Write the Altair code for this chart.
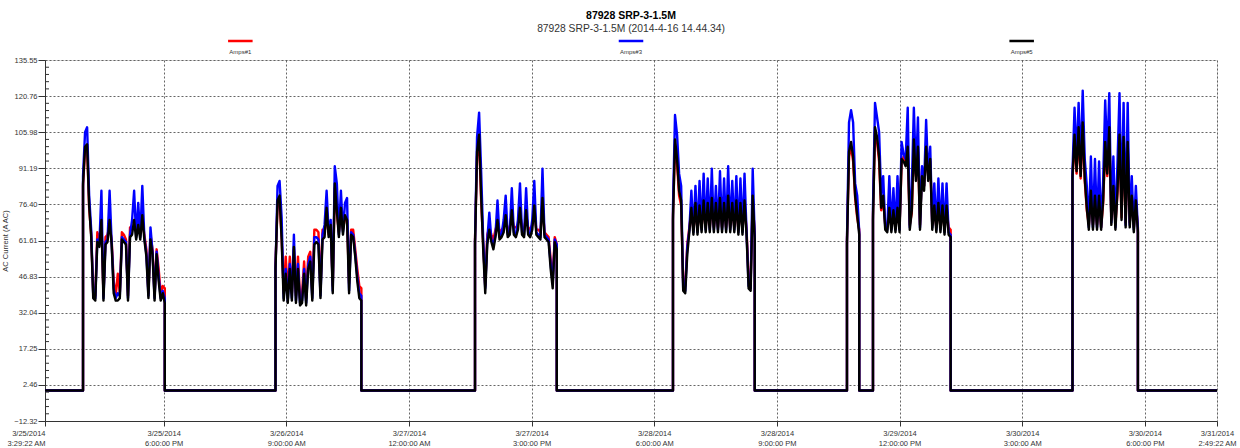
import altair as alt
import pandas as pd

TITLE = "87928 SRP-3-1.5M"
SUBTITLE = "87928 SRP-3-1.5M (2014-4-16 14.44.34)"
Y_TITLE = "AC Current (A AC)"
SERIES = ["Amps#1", "Amps#3", "Amps#5"]
COLORS = ["#ff0000", "#0000ff", "#000000"]

START = "2014-03-25 03:29:22"
END = "2014-03-31 02:49:22"
BASE = 0.2          # idle current level
STEP = 0.25         # hours between readings
# start of each running period, hours after START
SEG_START = [4.65, 28.19, 52.59, 76.80, 98.08, 101.26, 125.66]

AMPS1 = [  # red
    [84,99,100,75,64,40,39,65,62,69,39,63,64,68,62,45,39,48,40,65,64,62,39,67,66,68,65,67,64,70,64,58,40,64,58,39,58,50,40,43,42],
    [52,76,78,63,40,55,40,55,40,58,39,55,38,40,53,38,55,57,40,66,66,65,41,66,65,72,64,67,43,83,73,65,74,66,71,70,44,66,66,58,50,43,42],
    [62,96,103,78,60,43,64,67,64,62,66,69,65,66,67,71,66,67,72,67,67,68,73,67,66,72,67,66,68,74,66,66,65,77,65,64,63,54,46,63,60],
    [72,101,93,80,76,44,43,60,67,74,66,75,66,75,67,76,67,76,67,77,67,75,67,77,67,76,67,78,67,75,67,76,66,76,66,77,66,46,45,78,64],
    [62,96,100,94,79,71,66],
    [72,106,102,94,74,78,68,67,74,67,73,67,74,67,93,96,94,98,68,73,101,88,98,68,91,84,98,88,94,68,75,67,76,67,75,66,75,67,66],
    [87,103,89,106,87,108,86,74,68,81,68,79,68,79,67,77,100,88,106,70,83,68,81,103,71,102,69,100,69,79,67,77,67],
]
AMPS3 = [  # blue
    [88,106,108,80,66,39,38,62,60,82,38,61,62,82,61,42,38,40,39,63,62,61,38,64,70,82,63,77,63,84,63,56,39,67,57,38,57,47,38,41,38],
    [50,84,86,71,38,50,37,52,38,64,37,52,36,37,50,36,52,55,38,63,63,62,39,64,68,82,65,70,41,92,85,64,82,65,77,79,41,65,64,56,47,40,39],
    [61,104,114,90,62,42,62,73,62,60,64,78,63,64,70,80,64,65,83,65,64,70,85,65,64,83,65,64,70,86,65,64,63,91,64,63,62,52,44,62,60],
    [75,113,105,89,84,42,41,59,66,82,65,84,65,86,66,89,66,87,66,91,66,84,66,90,66,87,66,92,66,86,66,88,65,87,65,89,65,43,42,91,63],
    [62,110,115,110,85,80,65],
    [75,118,112,106,80,88,67,66,88,66,83,66,88,66,102,97,95,116,67,84,116,89,112,67,92,84,111,88,100,67,85,66,87,66,85,65,85,65,64],
    [90,116,95,118,92,123,95,84,67,96,67,95,67,94,67,86,119,96,122,69,96,67,93,122,75,118,68,118,68,88,66,84,66],
]
AMPS5 = [  # black
    [85,100,101,76,63,38,37,61,59,70,37,60,61,70,60,40,37,37,38,62,61,60,37,63,64,70,62,68,62,72,62,55,38,62,56,37,56,45,37,40,36],
    [50,78,80,62,37,48,36,50,37,59,36,50,35,36,48,35,50,53,37,60,61,60,38,62,63,75,63,68,40,85,74,63,75,64,72,70,40,64,63,55,45,38,37],
    [60,98,105,80,58,40,60,66,61,58,63,70,62,63,65,72,63,64,74,64,63,66,75,64,63,74,64,63,66,76,64,63,62,79,63,62,61,50,42,61,58],
    [70,103,95,82,78,41,40,56,65,75,64,77,64,76,65,78,65,77,65,79,65,77,65,79,65,77,65,80,65,77,65,78,64,77,64,78,64,42,41,80,62],
    [60,98,102,96,80,72,64],
    [70,108,104,96,75,80,66,65,75,65,74,65,75,65,95,94,92,100,66,74,103,86,100,66,88,82,100,86,95,66,76,65,77,65,76,64,76,64,63],
    [88,105,90,108,88,110,87,75,66,82,66,80,66,80,66,78,102,89,108,68,84,66,82,105,70,104,67,102,67,80,65,78,65],
]

Y_TICKS = [-12.32, 2.46, 17.25, 32.04, 46.83, 61.61, 76.40, 91.19, 105.98, 120.76, 135.55]
X_TICK_TIMES = ["2014-03-25 03:29:22", "2014-03-25 18:00:00", "2014-03-26 09:00:00",
                "2014-03-27 00:00:00", "2014-03-27 15:00:00", "2014-03-28 06:00:00",
                "2014-03-28 21:00:00", "2014-03-29 12:00:00", "2014-03-30 03:00:00",
                "2014-03-30 18:00:00", "2014-03-31 02:49:22"]
X_DATES = ["3/25/2014", "3/25/2014", "3/26/2014", "3/27/2014", "3/27/2014", "3/28/2014",
           "3/28/2014", "3/29/2014", "3/30/2014", "3/30/2014", "3/31/2014"]
X_TIMES = ["3:29:22 AM", "6:00:00 PM", "9:00:00 AM", "12:00:00 AM", "3:00:00 PM", "6:00:00 AM",
           "9:00:00 PM", "12:00:00 PM", "3:00:00 AM", "6:00:00 PM", "2:49:22 AM"]

FONT = "Liberation Sans Narrow, Arial Narrow, Liberation Sans, Arial, sans-serif"
TFONT = "Liberation Sans, Arial, sans-serif"

t_start = pd.Timestamp(START)
END_HOUR = (pd.Timestamp(END) - t_start).total_seconds() / 3600.0
X_TICKS = [(pd.Timestamp(t) - t_start).total_seconds() / 3600.0 for t in X_TICK_TIMES]

rows = []
for name, segs in zip(SERIES, [AMPS1, AMPS3, AMPS5]):
    pts = [(0.0, BASE)]
    for t0, vals in zip(SEG_START, segs):
        pts.append((t0, BASE))
        for i, v in enumerate(vals):
            pts.append((t0 + i * STEP, v))
        pts.append((t0 + (len(vals) - 1) * STEP, BASE))
    pts.append((END_HOUR, BASE))
    for k, (h, v) in enumerate(pts):
        rows.append({"hour": h, "value": v, "series": name, "k": k})
df = pd.DataFrame(rows)

# x labels (two lines)
expr = "''"
for v, d, t in reversed(list(zip(X_TICKS, X_DATES, X_TIMES))):
    expr = f"abs(datum.value - {v:.5f}) < 0.01 ? ['{d}', '{t}'] : ({expr})"

x_axis = alt.Axis(values=X_TICKS, labelExpr=expr, title=None, labelFont=FONT, labelFontSize=7.5,
                  labelColor="#333", labelBaseline="top", labelLineHeight=10, labelPadding=3,
                  tickSize=5, tickColor="#333", domainColor="#333", labelOverlap=False,
                  labelAlign={"condition": {"test": "datum.value < 0.01", "value": "right"}, "value": "center"},
                  labelOffset={"condition": {"test": "datum.value < 0.01", "value": 0}, "value": 0},
                  grid=True, gridColor="#555", gridDash=[2, 2], gridOpacity=0.9)
y_axis = alt.Axis(values=Y_TICKS, format=".2f", title=Y_TITLE, labelFont=FONT, labelFontSize=7.5,
                  labelColor="#333", labelPadding=1, tickSize=7, tickColor="#333", domainColor="#333",
                  labelOverlap=False, titleFont=FONT, titleFontSize=7.5, titleFontWeight="normal",
                  titleColor="#333", titlePadding=4,
                  grid=True, gridColor="#555", gridDash=[2, 2], gridOpacity=0.9)

x_scale = alt.Scale(domain=[0, END_HOUR], nice=False, zero=False)
y_scale = alt.Scale(domain=[Y_TICKS[0], Y_TICKS[-1]], nice=False, zero=False)
color_scale = alt.Scale(domain=SERIES, range=COLORS)

def line_layer(name):
    return alt.Chart(df).transform_filter(alt.datum.series == name).mark_line(
        strokeWidth=2.4, strokeJoin="round"
    ).encode(
        x=alt.X("hour:Q", scale=x_scale, axis=x_axis),
        y=alt.Y("value:Q", scale=y_scale, axis=y_axis),
        color=alt.Color("series:N", scale=color_scale, legend=None),
        order="k:Q",
    )

# minor ticks on the y axis (inside the plot)
minor = []
for a, b in zip(Y_TICKS[:-1], Y_TICKS[1:]):
    for j in range(1, 5):
        minor.append(a + j * (b - a) / 5)
minor_df = pd.DataFrame({"value": minor})
minor_layer = alt.Chart(minor_df).mark_rule(color="#333", strokeWidth=1).encode(
    y=alt.Y("value:Q", scale=y_scale, axis=y_axis),
    x=alt.value(0), x2=alt.value(4),
)

# legend: one slot per series, centred in thirds of the time range
leg_df = pd.DataFrame({
    "series": SERIES,
    "lx": [END_HOUR * (i + 0.5) / 3 for i in range(3)],
})
leg_df["lx1"] = leg_df["lx"] - 1.5
leg_df["lx2"] = leg_df["lx"] + 1.5
leg_rule = alt.Chart(leg_df).mark_rule(strokeWidth=2.5).encode(
    x=alt.X("lx1:Q", scale=x_scale, axis=x_axis), x2="lx2:Q",
    y=alt.value(-19),
    color=alt.Color("series:N", scale=color_scale, legend=None),
)
leg_text = alt.Chart(leg_df).mark_text(fontSize=6, font=FONT, color="#333", baseline="middle").encode(
    x=alt.X("lx:Q", scale=x_scale, axis=x_axis),
    y=alt.value(-8),
    text="series:N",
)

chart = alt.layer(
    line_layer("Amps#1"), line_layer("Amps#3"), line_layer("Amps#5"),
    minor_layer, leg_rule, leg_text,
).properties(
    width=1172, height=361,
    autosize=alt.AutoSizeParams(type="none"),
    padding={"left": 45, "top": 60, "right": 23, "bottom": 27},
    title=alt.TitleParams(TITLE, subtitle=SUBTITLE, anchor="middle", frame="group", font=TFONT,
                          fontSize=10.5, fontWeight="bold", color="#000", subtitleFont=TFONT,
                          subtitleFontSize=10.3, subtitleColor="#333", subtitlePadding=3, offset=5),
).configure_view(stroke="#333", strokeWidth=1).configure(background="white")

chart.save("out.html", embed_options={"renderer": "svg", "actions": False})
